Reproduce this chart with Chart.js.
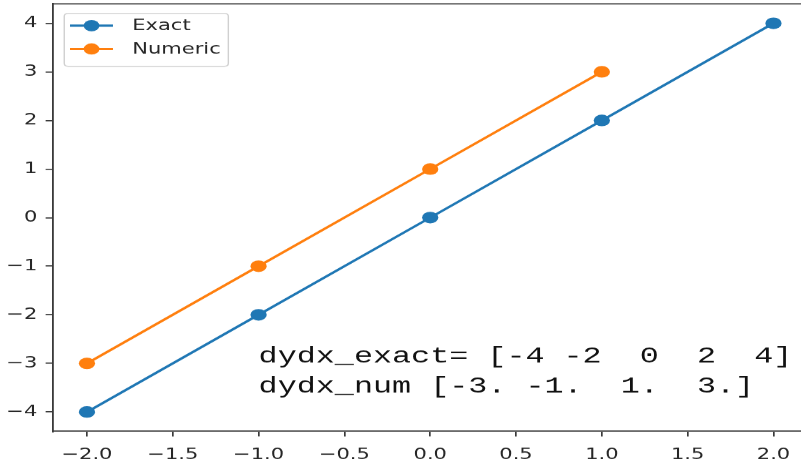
<!DOCTYPE html>
<html>
<head>
<meta charset="utf-8">
<script src="https://cdn.jsdelivr.net/npm/chart.js@4.4.1/dist/chart.umd.min.js"></script>
<style>
  html, body { margin: 0; padding: 0; background: #fff; }
  #frame { width: 801px; height: 459px; overflow: hidden; position: relative; }
  #stretch { position: absolute; left: 0; top: 0; width: 580px; height: 459px;
             transform: scaleX(1.4); transform-origin: 0 0; }
  canvas { display: block; }
</style>
</head>
<body>
<div id="frame"><div id="stretch"><canvas id="c" width="580" height="459" style="width:580px;height:459px"></canvas></div></div>
<script>
// ---- data ----
const xExact = [-2, -1, 0, 1, 2];
const yExact = [-4, -2, 0, 2, 4];
const xNumeric = [-2, -1, 0, 1];
const yNumeric = [-3, -1, 1, 3];
const seriesNames = ['Exact', 'Numeric'];
const xTicks = [-2.0, -1.5, -1.0, -0.5, 0.0, 0.5, 1.0, 1.5, 2.0];
const yTicks = [-4, -3, -2, -1, 0, 1, 2, 3, 4];
const annotationLines = ['dydx_exact= [-4 -2  0  2  4]', 'dydx_num [-3. -1.  1.  3.]'];

// ---- style ----
const BLUE = '#1f77b4', ORANGE = '#ff7f0e';
const SPINE = '#3a3a3a', TXT = '#262626';
const TICK_FONT = { family: 'DejaVu Sans', size: 15 };
const minus = s => s.replace('-', '\u2212');
const noPad = s => { s.paddingTop = 0; s.paddingBottom = 0; s.paddingLeft = 0; s.paddingRight = 0; };

const frameSpines = {
  id: 'frameSpines',
  afterDraw(chart) {
    const { ctx, chartArea: a } = chart;
    ctx.save();
    ctx.strokeStyle = SPINE; ctx.lineWidth = 1.3;
    ctx.beginPath();
    ctx.moveTo(a.left, a.top); ctx.lineTo(a.right, a.top);
    ctx.moveTo(a.right, a.top); ctx.lineTo(a.right, a.bottom);
    ctx.stroke();
    ctx.restore();
  }
};

const annot = {
  id: 'annot',
  afterDatasetsDraw(chart) {
    const { ctx, scales } = chart;
    const x = scales.x.getPixelForValue(-1.0);
    const y0 = scales.y.getPixelForValue(-2.98);
    ctx.save();
    ctx.fillStyle = '#111';
    ctx.font = '22.7px "Liberation Mono"';
    ctx.textBaseline = 'alphabetic';
    ctx.textAlign = 'left';
    annotationLines.forEach((t, i) => ctx.fillText(t, x, y0 + i * 30));
    ctx.restore();
  }
};

const innerLegend = {
  id: 'innerLegend',
  afterDraw(chart) {
    const { ctx } = chart;
    const colors = [BLUE, ORANGE];
    const L = 45.9, R = 163.1, T = 13.3, B = 66.3, r = 3;
    ctx.save();
    ctx.beginPath();
    ctx.moveTo(L + r, T); ctx.lineTo(R - r, T); ctx.quadraticCurveTo(R, T, R, T + r);
    ctx.lineTo(R, B - r); ctx.quadraticCurveTo(R, B, R - r, B);
    ctx.lineTo(L + r, B); ctx.quadraticCurveTo(L, B, L, B - r);
    ctx.lineTo(L, T + r); ctx.quadraticCurveTo(L, T, L + r, T);
    ctx.closePath();
    ctx.fillStyle = 'rgba(255,255,255,0.8)'; ctx.fill();
    ctx.strokeStyle = '#d0d0d0'; ctx.lineWidth = 1; ctx.stroke();
    const rows = [25.6, 48.9];
    seriesNames.forEach((name, i) => {
      const y = rows[i];
      ctx.strokeStyle = colors[i]; ctx.lineWidth = 2.2;
      ctx.beginPath(); ctx.moveTo(50, y); ctx.lineTo(80.7, y); ctx.stroke();
      ctx.fillStyle = colors[i];
      ctx.beginPath(); ctx.arc(65.4, y, 5.6, 0, Math.PI * 2); ctx.fill();
      ctx.fillStyle = TXT;
      ctx.font = '15px "DejaVu Sans"';
      ctx.textBaseline = 'middle'; ctx.textAlign = 'left';
      ctx.fillText(name, 94.5, y + 0.5);
    });
    ctx.restore();
  }
};

new Chart(document.getElementById('c'), {
  type: 'line',
  data: {
    datasets: [
      { label: seriesNames[0], data: xExact.map((x, i) => ({ x, y: yExact[i] })),
        borderColor: BLUE, backgroundColor: BLUE, borderWidth: 2.2,
        pointRadius: 5.8, pointBorderWidth: 0, pointBackgroundColor: BLUE, tension: 0 },
      { label: seriesNames[1], data: xNumeric.map((x, i) => ({ x, y: yNumeric[i] })),
        borderColor: ORANGE, backgroundColor: ORANGE, borderWidth: 2.2,
        pointRadius: 5.8, pointBorderWidth: 0, pointBackgroundColor: ORANGE, tension: 0 }
    ]
  },
  options: {
    responsive: false,
    animation: false,
    devicePixelRatio: 1.4,
    layout: { autoPadding: false, padding: { top: 3.8, right: 3, left: 0, bottom: 0 } },
    plugins: { legend: { display: false }, tooltip: { enabled: false } },
    scales: {
      x: {
        type: 'linear', min: -2.2, max: 2.2,
        afterBuildTicks: s => { s.ticks = xTicks.map(v => ({ value: v })); },
        afterFit: s => { s.height = 28; noPad(s); },
        grid: { display: true, drawOnChartArea: false, drawTicks: true, tickLength: 5, color: SPINE, lineWidth: 1.2 },
        border: { display: true, color: SPINE, width: 1.3 },
        ticks: { font: TICK_FONT, color: TXT, padding: 10, maxRotation: 0, autoSkip: false,
                 callback: v => minus(Number(v).toFixed(1)) }
      },
      y: {
        type: 'linear', min: -4.4, max: 4.4,
        afterBuildTicks: s => { s.ticks = yTicks.map(v => ({ value: v })); },
        afterFit: s => { s.width = 37.6; noPad(s); },
        grid: { display: true, drawOnChartArea: false, drawTicks: true, tickLength: 5, color: SPINE, lineWidth: 1.2 },
        border: { display: true, color: SPINE, width: 1.3 },
        ticks: { font: TICK_FONT, color: TXT, padding: 6, autoSkip: false,
                 callback: v => minus(String(v)) }
      }
    }
  },
  plugins: [frameSpines, annot, innerLegend]
});
</script>
</body>
</html>
